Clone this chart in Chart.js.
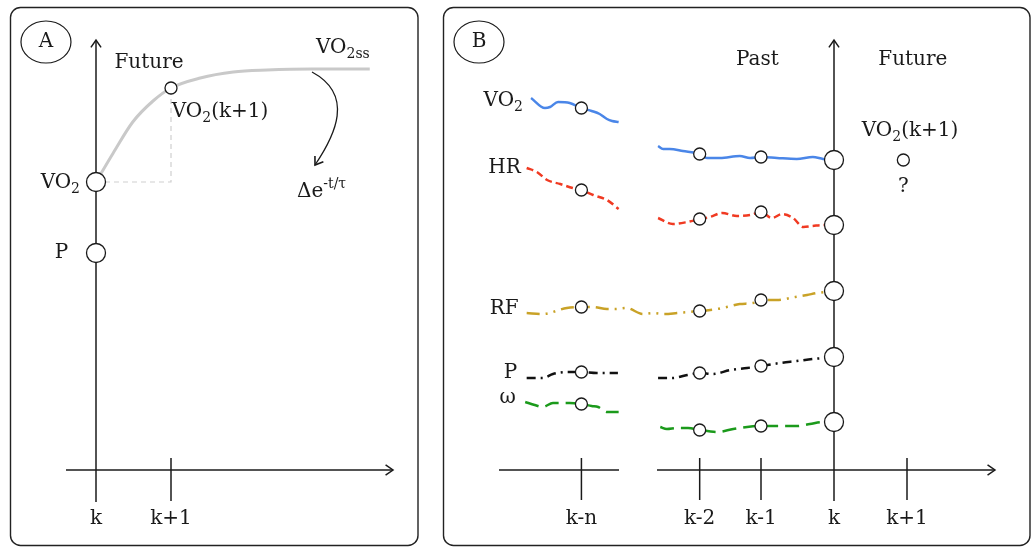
<!DOCTYPE html>
<html>
<head>
<meta charset="utf-8">
<script src="https://cdn.jsdelivr.net/npm/chart.js"></script>
<style>
html,body{margin:0;padding:0;background:#fff;}
#wrap{position:relative;width:1035px;height:548px;overflow:hidden;}
#cA{position:absolute;left:0;top:0;}
#cB{position:absolute;left:432px;top:0;}
</style>
</head>
<body>
<div id="wrap">
  <canvas id="cA" width="428" height="548"></canvas>
  <canvas id="cB" width="603" height="548"></canvas>
</div>
<script>
// ---- panel A : VO2 step response ----
const tickPosA = [0, 1];
const tickLabelsA = ['k', 'k+1'];
const curveT = [0, 0.23, 0.49, 0.76, 1.0, 1.39, 1.83, 2.28, 2.88, 3.65];
const curveV = [28.8, 31.7, 34.8, 36.9, 38.2, 39.2, 39.8, 40.0, 40.1, 40.1];
const sampleAT = [0, 0, 1];          // VO2(k), P(k), VO2(k+1)
const sampleAV = [28.8, 21.7, 38.2];
const guideT = [0, 1, 1];
const guideV = [28.8, 28.8, 38.2];

// ---- panel B : past signals ----
const tickPosB = [-3.46, -1.84, -1.0, 0, 1.0];
const tickLabelsB = ['k-n', 'k-2', 'k-1', 'k', 'k+1'];
const sampleT = [-3.46, -1.84, -1.0, 0];

const vo2T = [-4.15,-3.96,-3.89,-3.78,-3.62,-3.46,-3.32,-3.21,-3.11,-3.04,-2.95,-2.7,-2.41,-2.34,-2.25,-2.07,-1.84,-1.74,-1.56,-1.29,-1.15,-1.0,-0.78,-0.51,-0.29,-0.15,0];
const vo2V = [37.2,36.2,36.3,36.8,36.7,36.2,35.9,35.6,35.1,34.9,34.8,null,32.4,32.1,32.1,31.9,31.6,31.2,31.2,31.4,31.2,31.3,31.2,31.1,31.3,31.1,31.0];
const hrT = [-4.21,-4.07,-3.93,-3.75,-3.58,-3.46,-3.30,-3.11,-2.95,-2.7,-2.41,-2.21,-2.01,-1.84,-1.70,-1.53,-1.33,-1.15,-1.0,-0.85,-0.71,-0.56,-0.42,-0.29,-0.15,0];
const hrV = [30.2,29.8,29.0,28.6,28.2,28.0,27.5,27.0,26.1,null,25.2,24.6,24.8,25.1,25.3,25.7,25.4,25.5,25.8,25.2,25.6,25.2,24.3,24.4,24.5,24.5];
const rfT = [-4.21,-3.99,-3.66,-3.46,-3.30,-3.11,-3.00,-2.84,-2.62,-2.48,-2.32,-2.15,-1.84,-1.60,-1.47,-1.29,-1.11,-1.0,-0.78,-0.53,-0.37,-0.23,0];
const rfV = [15.7,15.6,16.2,16.3,16.3,16.1,16.1,16.2,15.6,15.7,15.6,15.7,15.9,16.1,16.3,16.6,16.7,17.0,17.0,17.3,17.5,17.7,17.9];
const pT = [-4.21,-3.99,-3.85,-3.66,-3.46,-3.25,-2.96,-2.7,-2.41,-2.21,-2.01,-1.84,-1.66,-1.42,-1.19,-1.0,-0.74,-0.51,-0.29,-0.12,0];
const pV = [9.2,9.2,9.6,9.8,9.8,9.7,9.7,null,9.2,9.2,9.5,9.7,9.6,10.0,10.2,10.4,10.7,10.9,11.1,11.2,11.3];
const wT = [-4.23,-4.10,-3.99,-3.85,-3.62,-3.46,-3.32,-3.23,-3.11,-2.95,-2.7,-2.38,-2.29,-2.15,-2.00,-1.84,-1.60,-1.38,-1.19,-1.0,-0.74,-0.51,-0.33,-0.16,0];
const wV = [6.8,6.5,6.3,6.7,6.7,6.6,6.4,6.3,5.8,5.8,null,4.3,4.1,4.2,4.2,4.0,3.8,4.1,4.3,4.4,4.4,4.4,4.6,4.8,4.8];

const vo2S = [36.2, 31.6, 31.3, 31.0];
const hrS  = [28.0, 25.1, 25.8, 24.5];
const rfS  = [16.3, 15.9, 17.0, 17.9];
const pS   = [9.8, 9.7, 10.4, 11.3];
const wS   = [6.6, 4.0, 4.4, 4.8];
const futureT = [0.95];
const futureV = [31.0];

const FONT = '"DejaVu Serif", "Liberation Serif", serif';
const INK = '#1a1a1a';

const pts = (T, V) => T.map((t, i) => ({x: t, y: V[i]}));

function P(chart, x, y){
  return [chart.scales.x.getPixelForValue(x), chart.scales.y.getPixelForValue(y)];
}
function seg(ctx, a, b){
  ctx.beginPath(); ctx.moveTo(a[0], a[1]); ctx.lineTo(b[0], b[1]); ctx.stroke();
}
function chevron(ctx, tip, ang, len){
  const s = 0.6;
  ctx.beginPath();
  ctx.moveTo(tip[0] - len*Math.cos(ang - s), tip[1] - len*Math.sin(ang - s));
  ctx.lineTo(tip[0], tip[1]);
  ctx.lineTo(tip[0] - len*Math.cos(ang + s), tip[1] - len*Math.sin(ang + s));
  ctx.stroke();
}
function rich(ctx, parts, x, y, align, size){
  size = size || 20;
  const segs = parts.map(p => {
    const kind = p[1] || '';
    const fs = kind ? Math.round(size*0.7) : size;
    ctx.font = fs + 'px ' + FONT;
    return {text: p[0], kind, fs, w: ctx.measureText(p[0]).width};
  });
  const total = segs.reduce((s, g) => s + g.w, 0);
  let cx = align === 'right' ? x - total : align === 'center' ? x - total/2 : x;
  ctx.textBaseline = 'middle'; ctx.textAlign = 'left'; ctx.fillStyle = INK;
  segs.forEach(g => {
    ctx.font = g.fs + 'px ' + FONT;
    const dy = g.kind === 'sub' ? size*0.34 : g.kind === 'sup' ? -size*0.38 : 0;
    ctx.fillText(g.text, cx, y + dy);
    cx += g.w;
  });
}
function frame(ctx, x, y, w, h){
  ctx.save();
  ctx.strokeStyle = '#222'; ctx.lineWidth = 1.4;
  ctx.beginPath(); ctx.roundRect(x, y, w, h, 10); ctx.stroke();
  ctx.restore();
}
function badge(ctx, c, letter){
  ctx.save();
  ctx.strokeStyle = INK; ctx.lineWidth = 1.2;
  ctx.beginPath(); ctx.ellipse(c[0], c[1], 25, 21, 0, 0, Math.PI*2); ctx.stroke();
  ctx.restore();
  rich(ctx, [[letter]], c[0], c[1], 'center');
}

const circleStyle = {
  showLine: false, backgroundColor: '#fff', borderColor: INK, borderWidth: 1.3,
  pointRadius: c => c.dataIndex === 3 ? 9.5 : 6, order: 0
};

function baseOptions(xmin, xmax){
  return {
    responsive: false, animation: false, events: [],
    layout: {padding: 0, autoPadding: false},
    plugins: {legend: {display: false}, tooltip: {enabled: false}},
    scales: {
      x: {type: 'linear', display: false, min: xmin, max: xmax, bounds: 'data'},
      y: {type: 'linear', display: false, min: -7.8, max: 47.0, bounds: 'data'}
    }
  };
}

// ---------- chart A ----------
const textsA = [
  {x: 0.707, y: 40.7, parts: [['Future']], align: 'center'},
  {x: 1.01, y: 35.8, parts: [['VO'], ['2', 'sub'], ['(k+1)']], align: 'left'},
  {x: 3.65, y: 42.2, parts: [['VO'], ['2ss', 'sub']], align: 'right'},
  {x: -0.213, y: 28.7, parts: [['VO'], ['2', 'sub']], align: 'right'},
  {x: -0.37, y: 21.7, parts: [['P']], align: 'right'},
  {x: 2.68, y: 27.8, parts: [['\u0394e'], ['-t/\u03c4', 'sup']], align: 'left'}
];

const decoA = {
  id: 'decoA',
  beforeDatasetsDraw(chart){
    const ctx = chart.ctx;
    frame(ctx, 10.5, 7.5, 407.5, 538);
    ctx.save();
    ctx.strokeStyle = INK; ctx.lineWidth = 1.5;
    seg(ctx, P(chart, 0, -3.2), P(chart, 0, 43.0));
    chevron(ctx, P(chart, 0, 43.0), -Math.PI/2, 9);
    seg(ctx, P(chart, -0.4, 0), P(chart, 3.96, 0));
    chevron(ctx, P(chart, 3.96, 0), 0, 9);
    seg(ctx, P(chart, tickPosA[1], 1.2), P(chart, tickPosA[1], -3.1));
    ctx.restore();
  },
  afterDatasetsDraw(chart){
    const ctx = chart.ctx;
    badge(ctx, P(chart, -0.667, 42.8), 'A');
    textsA.forEach(t => { const p = P(chart, t.x, t.y); rich(ctx, t.parts, p[0], p[1], t.align); });
    tickPosA.forEach((t, i) => { const p = P(chart, t, -4.9); rich(ctx, [[tickLabelsA[i]]], p[0], p[1], 'center'); });
    // time-constant arrow
    const a = P(chart, 2.88, 39.8), b = P(chart, 3.45, 37.5), c = P(chart, 3.19, 33.5), d = P(chart, 2.92, 30.5);
    ctx.save();
    ctx.strokeStyle = INK; ctx.lineWidth = 1.3;
    ctx.beginPath(); ctx.moveTo(a[0], a[1]); ctx.bezierCurveTo(b[0], b[1], c[0], c[1], d[0], d[1]); ctx.stroke();
    ctx.lineWidth = 1.6;
    chevron(ctx, d, Math.atan2(d[1] - c[1], d[0] - c[0]), 9);
    ctx.restore();
  }
};

new Chart(document.getElementById('cA'), {
  type: 'scatter',
  data: {datasets: [
    Object.assign({data: pts(sampleAT, sampleAV)}, circleStyle, {pointRadius: c => c.dataIndex < 2 ? 9.5 : 6}),
    {data: pts(curveT, curveV), showLine: true, borderColor: '#c9c9c9', borderWidth: 3, pointRadius: 0, cubicInterpolationMode: 'monotone', order: 2},
    {data: pts(guideT, guideV), showLine: true, borderColor: '#cfcfcf', borderWidth: 1.2, borderDash: [5, 4], pointRadius: 0, order: 3}
  ]},
  options: baseOptions((0 - 96)/75, (428 - 96)/75),
  plugins: [decoA]
});

// ---------- chart B ----------
const textsB = [
  {x: -1.05, y: 41.0, parts: [['Past']], align: 'center'},
  {x: 1.08, y: 41.0, parts: [['Future']], align: 'center'},
  {x: 0.38, y: 33.9, parts: [['VO'], ['2', 'sub'], ['(k+1)']], align: 'left'},
  {x: 0.95, y: 28.3, parts: [['?']], align: 'center'},
  {x: -4.26, y: 36.9, parts: [['VO'], ['2', 'sub']], align: 'right'},
  {x: -4.29, y: 30.2, parts: [['HR']], align: 'right'},
  {x: -4.32, y: 16.1, parts: [['RF']], align: 'right'},
  {x: -4.34, y: 9.7, parts: [['P']], align: 'right'},
  {x: -4.36, y: 7.2, parts: [['\u03c9']], align: 'right'}
];

const decoB = {
  id: 'decoB',
  beforeDatasetsDraw(chart){
    const ctx = chart.ctx;
    frame(ctx, 11.5, 7.5, 586.5, 538);
    ctx.save();
    ctx.strokeStyle = INK; ctx.lineWidth = 1.5;
    seg(ctx, P(chart, 0, -3.1), P(chart, 0, 43.0));
    chevron(ctx, P(chart, 0, 43.0), -Math.PI/2, 9);
    seg(ctx, P(chart, -4.589, 0), P(chart, -2.945, 0));
    seg(ctx, P(chart, -2.425, 0), P(chart, 2.205, 0));
    chevron(ctx, P(chart, 2.205, 0), 0, 9);
    tickPosB.forEach(t => { if (t !== 0) seg(ctx, P(chart, t, 1.2), P(chart, t, -3.0)); });
    ctx.restore();
  },
  afterDatasetsDraw(chart){
    const ctx = chart.ctx;
    badge(ctx, P(chart, -4.863, 42.8), 'B');
    textsB.forEach(t => { const p = P(chart, t.x, t.y); rich(ctx, t.parts, p[0], p[1], t.align); });
    tickPosB.forEach((t, i) => { const p = P(chart, t, -4.85); rich(ctx, [[tickLabelsB[i]]], p[0], p[1], 'center'); });
  }
};

const signal = (T, V, color, dash) => ({
  data: pts(T, V), showLine: true, spanGaps: false, borderColor: color, borderWidth: 2.5,
  borderDash: dash, pointRadius: 0, cubicInterpolationMode: 'monotone', order: 1
});
const samples = S => Object.assign({data: pts(sampleT, S)}, circleStyle);

new Chart(document.getElementById('cB'), {
  type: 'scatter',
  data: {datasets: [
    samples(vo2S), samples(hrS), samples(rfS), samples(pS), samples(wS),
    Object.assign({data: pts(futureT, futureV)}, circleStyle, {pointRadius: 6}),
    signal(vo2T, vo2V, '#4a86e8', []),
    signal(hrT, hrV, '#f03a22', [7, 4]),
    signal(rfT, rfV, '#c9a227', [13, 6, 2, 6, 2, 6]),
    signal(pT, pV, '#111111', [9, 5, 2, 5]),
    signal(wT, wV, '#1b9a1b', [14, 7])
  ]},
  options: baseOptions((432 - 834)/73, (1035 - 834)/73),
  plugins: [decoB]
});
</script>
</body>
</html>
